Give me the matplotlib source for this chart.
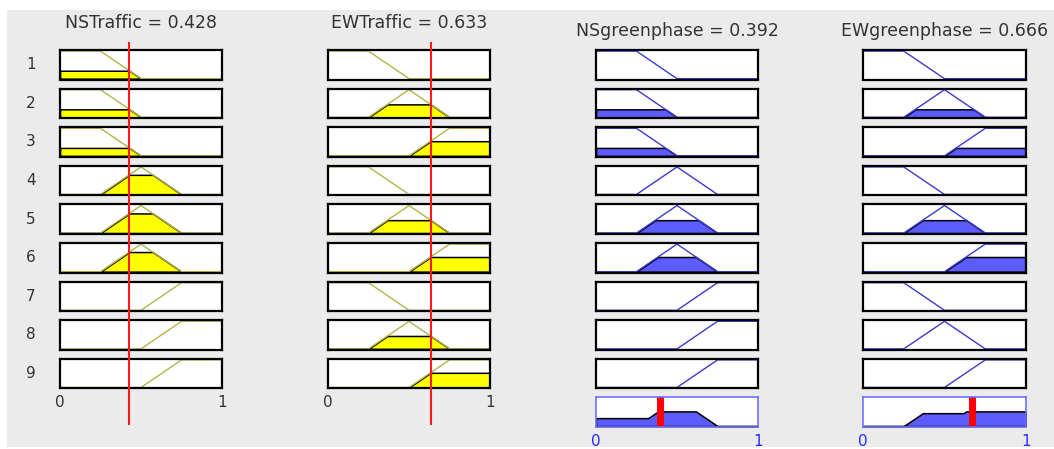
"""Fuzzy-Rule-Viewer (Ampelsteuerung) nachbauen."""
import numpy as np
import matplotlib.pyplot as plt
from matplotlib.patches import Rectangle

ns_traffic = 0.428
ew_traffic = 0.633
ns_green = 0.392
ew_green = 0.666

# Zugehoerigkeitsfunktionen als Stuetzstellen
mf_x = {
    "low": [0.0, 0.25, 0.5, 1.0],
    "medium": [0.0, 0.25, 0.5, 0.75, 1.0],
    "high": [0.0, 0.5, 0.75, 1.0],
}
mf_y = {
    "low": [1, 1, 0, 0],
    "medium": [0, 0, 1, 0, 0],
    "high": [0, 0, 1, 1],
}

# Regelbasis: 9 Regeln
rule_ns_traffic = ["low"] * 3 + ["medium"] * 3 + ["high"] * 3
rule_ew_traffic = ["low", "medium", "high"] * 3
rule_ns_green = ["low"] * 3 + ["medium"] * 3 + ["high"] * 3
rule_ew_green = ["low", "medium", "high"] * 3

W, H = 1054, 449
xs = np.linspace(0, 1, 801)

IN_LINE = "#b4b448"
IN_FILL = "#ffff00"
OUT_LINE = "#3a3ad0"
OUT_FILL = "#5c5cff"
TXT = "#333333"


def mf(name, x):
    return np.interp(x, mf_x[name], mf_y[name])


def px_axes(fig, left, top, width, height):
    return fig.add_axes([left / W, 1 - (top + height) / H, width / W, height / H])


def style_box(ax, color="black", lw=1.6):
    ax.set_xlim(0, 1)
    ax.set_ylim(-0.03, 1.04)
    ax.set_xticks([])
    ax.set_yticks([])
    for sp in ax.spines.values():
        sp.set_color(color)
        sp.set_linewidth(lw)


fig = plt.figure(figsize=(W / 100, H / 100), dpi=100)
fig.patch.set_facecolor("white")
fig.patches.append(Rectangle((7 / W, 2 / H), 1 - 7 / W, 437 / H,
                             transform=fig.transFigure, facecolor="#ebebeb",
                             edgecolor="none", zorder=-10))

row_top0 = 50
row_pitch = 38.6
row_h = 29.5

# Zugehoerigkeitsgrade der Eingaenge
ns_deg = [mf(r, ns_traffic) for r in rule_ns_traffic]
ew_deg = [mf(r, ew_traffic) for r in rule_ew_traffic]
strength = [min(a, b) for a, b in zip(ns_deg, ew_deg)]

inputs = [
    ("NSTraffic", ns_traffic, rule_ns_traffic, ns_deg, 60, 162),
    ("EWTraffic", ew_traffic, rule_ew_traffic, ew_deg, 328, 162),
]
outputs = [
    ("NSgreenphase", ns_green, rule_ns_green, 596, 162),
    ("EWgreenphase", ew_green, rule_ew_green, 863, 163),
]

for name, val, rules, degs, left, width in inputs:
    for i, (r, d) in enumerate(zip(rules, degs)):
        ax = px_axes(fig, left, row_top0 + i * row_pitch, width, row_h)
        style_box(ax)
        y = mf(r, xs)
        if d > 0:
            ax.fill_between(xs, 0, np.minimum(y, d), facecolor=IN_FILL,
                            edgecolor="black", linewidth=1.1)
        ax.plot(xs, y, color=IN_LINE, lw=1.0)
        if name == "NSTraffic":
            ax.text(-0.18, 0.5, str(i + 1), transform=ax.transAxes,
                    ha="center", va="center", fontsize=11, color=TXT)
        if i == 0:
            ax.text(0.5, 1.92, f"{name} = {val:.3f}", transform=ax.transAxes,
                    ha="center", va="center", fontsize=12.5, color=TXT)
        if i == len(rules) - 1:
            ax.set_xticks([0, 1])
            ax.set_xticklabels(["0", "1"], fontsize=11, color=TXT)
            ax.tick_params(axis="x", length=0, pad=5)
    # rote Linie ueber alle Regeln
    ov = px_axes(fig, left, 42, width, 383)
    ov.set_xlim(0, 1)
    ov.axis("off")
    ov.patch.set_visible(False)
    ov.axvline(val, color="#ff1a1a", lw=1.5)

for name, val, rules, left, width in outputs:
    agg = np.zeros_like(xs)
    for i, (r, s) in enumerate(zip(rules, strength)):
        ax = px_axes(fig, left, row_top0 + i * row_pitch, width, row_h)
        style_box(ax)
        y = mf(r, xs)
        clipped = np.minimum(y, s)
        agg = np.maximum(agg, clipped)
        if s > 0:
            ax.fill_between(xs, 0, clipped, facecolor=OUT_FILL,
                            edgecolor="black", linewidth=1.1)
        ax.plot(xs, y, color=OUT_LINE, lw=1.0)
        if i == 0:
            ax.text(0.5, 1.64, f"{name} = {val:.3f}", transform=ax.transAxes,
                    ha="center", va="center", fontsize=12.5, color=TXT)
    # aggregierte Ausgabe
    ax = px_axes(fig, left, row_top0 + 9 * row_pitch, width, row_h)
    style_box(ax, color="#7070ff", lw=1.2)
    ax.fill_between(xs, 0, agg, facecolor=OUT_FILL, edgecolor="black", linewidth=1.1)
    ax.axvline(val, color="#ff0000", lw=5)
    ax.set_xticks([0, 1])
    ax.set_xticklabels(["0", "1"], fontsize=11, color="#2a2aff")
    ax.tick_params(axis="x", length=0, pad=5)

fig.savefig("out.png", dpi=100)
